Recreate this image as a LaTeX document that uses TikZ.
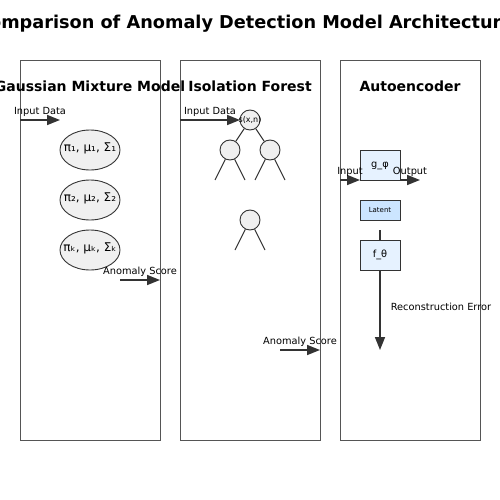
\documentclass[tikz,border=0pt]{standalone}
\usepackage{fontspec}
\setmainfont{DejaVu Sans}
\usetikzlibrary{arrows.meta}
\usetikzlibrary{shapes.geometric}
\definecolor{edge}{HTML}{333333}
\definecolor{panelc}{HTML}{555555}
\definecolor{nodefill}{HTML}{F0F0F0}
\definecolor{boxfill}{HTML}{E6F2FF}
\definecolor{latfill}{HTML}{CCE5FF}
\tikzset{
  panel/.style={draw=panelc, line width=0.9pt},
  ptitle/.style={font=\fontsize{14}{16}\selectfont\bfseries, inner sep=0pt},
  lbl/.style={font=\fontsize{9.8}{11}\selectfont, inner sep=0pt},
  flow/.style={draw=edge, line width=1.6pt, -{Triangle[length=13pt,width=10pt]}},
  comp/.style={ellipse, draw=edge, line width=0.9pt, fill=nodefill, minimum width=60pt, minimum height=40pt, inner sep=0pt},
  comptext/.style={font=\fontsize{12}{14}\selectfont, inner sep=0pt},
  tnode/.style={circle, draw=edge, line width=0.9pt, fill=nodefill, minimum size=20pt, inner sep=0pt},
  branch/.style={draw=edge, line width=1pt},
  layer/.style={rectangle, draw=edge, line width=1pt, fill=boxfill, minimum width=40pt, minimum height=30pt, inner sep=0pt, font=\fontsize{9.8}{11}\selectfont},
}
\begin{document}
\begin{tikzpicture}[x=1pt,y=-1pt]
\useasboundingbox (0,0) rectangle (500,500);
\node[font=\fontsize{17.7}{20}\selectfont\bfseries] (title) at (250,24) {Comparison of Anomaly Detection Model Architectures};
% panels
\draw[panel] (20,60) rectangle (160,440);
\draw[panel] (180,60) rectangle (320,440);
\draw[panel] (340,60) rectangle (480,440);
\node[ptitle] (t1) at (90,86) {Gaussian Mixture Model};
\node[ptitle] (t2) at (250,86) {Isolation Forest};
\node[ptitle] (t3) at (410,86) {Autoencoder};
% GMM
\coordinate (g1s) at (20,120); \coordinate (g1e) at (60,120);
\draw[flow] (g1s) -- (g1e);
\node[lbl] (gin) at (40,112) {Input Data};
\node[comp] (c1) at (90,150) {};
\node[comp] (c2) at (90,200) {};
\node[comp] (c3) at (90,250) {};
\node[comptext] (c1t) at (90,148) {π₁, μ₁, Σ₁};
\node[comptext] (c2t) at (90,198) {π₂, μ₂, Σ₂};
\node[comptext] (c3t) at (90,248) {πₖ, μₖ, Σₖ};
\coordinate (g2s) at (120,280); \coordinate (g2e) at (160,280);
\draw[flow] (g2s) -- (g2e);
\node[lbl] (gout) at (140,272) {Anomaly Score};
% Isolation forest
\coordinate (i1s) at (180,120); \coordinate (i1e) at (240,120);
\draw[flow] (i1s) -- (i1e);
\node[lbl] (iin) at (210,112) {Input Data};
\node[tnode] (root) at (250,120) {};
\node[font=\fontsize{8}{9}\selectfont, inner sep=0pt] (roott) at (250,120) {s(x,n)};
\node[tnode] (l) at (230,150) {};
\node[tnode] (r) at (270,150) {};
\node[tnode] (m) at (250,220) {};
\draw[branch] (root) -- (l);
\draw[branch] (root) -- (r);
\coordinate (la) at (215,180); \coordinate (lb) at (245,180);
\coordinate (ra) at (255,180); \coordinate (rb) at (285,180);
\coordinate (ma) at (235,250); \coordinate (mb) at (265,250);
\draw[branch] (l) -- (la); \draw[branch] (l) -- (lb);
\draw[branch] (r) -- (ra); \draw[branch] (r) -- (rb);
\draw[branch] (m) -- (ma); \draw[branch] (m) -- (mb);
\coordinate (i2s) at (280,350); \coordinate (i2e) at (320,350);
\draw[flow] (i2s) -- (i2e);
\node[lbl] (iout) at (300,342) {Anomaly Score};
% Autoencoder
\node[layer, minimum height=30pt] (enc) at (380,165) {};
\node[lbl] (enct) at (380,166) {g\_φ};
\node[layer, fill=latfill, minimum height=20pt, font=\fontsize{7}{8}\selectfont] (lat) at (380,210) {Latent};
\node[layer] (dec) at (380,255) {f\_θ};
\coordinate (ains) at (340,180); \coordinate (aine) at (360,180);
\draw[flow] (ains) -- (aine);
\node[lbl] (ainl) at (350,172) {Input};
\coordinate (aouts) at (400,180); \coordinate (aoute) at (420,180);
\draw[flow] (aouts) -- (aoute);
\node[lbl] (aoutl) at (410,172) {Output};
\coordinate (stub) at (380,230);
\draw[branch, line width=1.6pt] (stub) -- (dec.north);
\coordinate (errend) at (380,350);
\draw[flow] (dec.south) -- (errend);
\node[lbl] (errl) at (441,307) {Reconstruction Error};
\end{tikzpicture}
\end{document}
